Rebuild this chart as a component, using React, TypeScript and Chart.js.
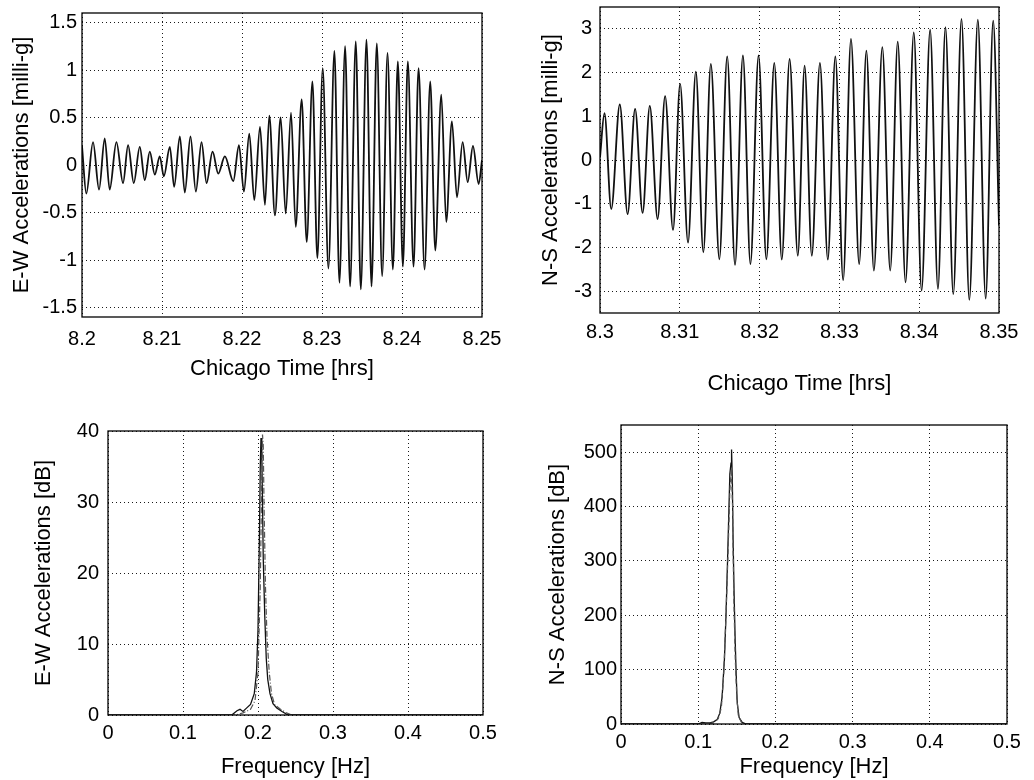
import { useEffect, useRef } from 'react';
import { Chart, registerables } from 'chart.js';

Chart.register(...registerables);

const FONT = '"Liberation Sans", Arial, Helvetica, sans-serif';

// ---------- E-W acceleration time history (extrema) ----------
const ewTime = [8.2, 8.20054, 8.20138, 8.20213, 8.20284, 8.20346, 8.2043, 8.20513, 8.20576, 8.20647, 8.20722, 8.20785, 8.20847, 8.2091, 8.20972, 8.21023, 8.21098, 8.21152, 8.21223, 8.21285, 8.21356, 8.21423, 8.21494, 8.21557, 8.21632, 8.21703, 8.21786, 8.21891, 8.21962, 8.22024, 8.22091, 8.22154, 8.22225, 8.22287, 8.22341, 8.22412, 8.22483, 8.22546, 8.22613, 8.22671, 8.22746, 8.22809, 8.2288, 8.22942, 8.23009, 8.2308, 8.23155, 8.23218, 8.23289, 8.23351, 8.23422, 8.23485, 8.23556, 8.23619, 8.23685, 8.23752, 8.23819, 8.23886, 8.23948, 8.24011, 8.24073, 8.24144, 8.24207, 8.24282, 8.24353, 8.24416, 8.24491, 8.24553, 8.24624, 8.24687, 8.24758, 8.24821, 8.24887, 8.24958, 8.25];
const ewAccel = [0.2, -0.3, 0.24, -0.26, 0.28, -0.26, 0.24, -0.19, 0.21, -0.19, 0.19, -0.16, 0.14, -0.1, 0.09, -0.12, 0.19, -0.23, 0.3, -0.29, 0.3, -0.28, 0.24, -0.19, 0.14, -0.09, 0.09, -0.17, 0.21, -0.28, 0.33, -0.37, 0.4, -0.42, 0.52, -0.53, 0.5, -0.51, 0.55, -0.65, 0.69, -0.81, 0.88, -0.98, 1.02, -1.09, 1.2, -1.24, 1.25, -1.28, 1.3, -1.31, 1.32, -1.28, 1.28, -1.17, 1.18, -1.1, 1.09, -1.07, 1.09, -1.07, 1.02, -1.1, 0.88, -0.9, 0.74, -0.6, 0.46, -0.34, 0.24, -0.18, 0.2, -0.2, 0.05];

// ---------- N-S acceleration time history ----------
const nsTime = [8.3, 8.30056, 8.30141, 8.30248, 8.30346, 8.3044, 8.30534, 8.30624, 8.30722, 8.30816, 8.30915, 8.31004, 8.31103, 8.31201, 8.31295, 8.31389, 8.31496, 8.31594, 8.31692, 8.31791, 8.31885, 8.31987, 8.32085, 8.32184, 8.32278, 8.32376, 8.32479, 8.32564, 8.32654, 8.32756, 8.32855, 8.32949, 8.33047, 8.33145, 8.33248, 8.33338, 8.33432, 8.33538, 8.33637, 8.33731, 8.33829, 8.33932, 8.3403, 8.34137, 8.34235, 8.34329, 8.34427, 8.3453, 8.34628, 8.34735, 8.34833, 8.34927, 8.35];
const nsAccel = [0.06, 1.07, -1.12, 1.27, -1.24, 1.17, -1.21, 1.24, -1.35, 1.46, -1.6, 1.74, -1.89, 2.02, -2.11, 2.2, -2.27, 2.37, -2.4, 2.39, -2.38, 2.39, -2.27, 2.22, -2.28, 2.31, -2.19, 2.16, -2.19, 2.22, -2.28, 2.37, -2.75, 2.77, -2.38, 2.5, -2.53, 2.58, -2.53, 2.71, -2.8, 2.92, -2.99, 2.98, -2.95, 3.04, -3.07, 3.23, -3.2, 3.21, -3.17, 3.19, -1.5];

// ---------- E-W spectrum ----------
const ewFreq = [0, 0.165, 0.172, 0.176, 0.18, 0.185, 0.19, 0.195, 0.198, 0.2, 0.202, 0.203, 0.204, 0.205, 0.206, 0.207, 0.209, 0.211, 0.213, 0.216, 0.22, 0.225, 0.232, 0.24, 0.5];
const ewPsd = [0, 0, 0.6, 0.8, 0.5, 1.0, 1.5, 3, 6, 12, 26, 35, 39, 37, 30, 22, 14, 8, 5, 3, 1.6, 1.0, 0.5, 0, 0];
const ewFreqDash = [0, 0.17, 0.18, 0.19, 0.196, 0.2, 0.203, 0.205, 0.206, 0.207, 0.208, 0.21, 0.212, 0.215, 0.218, 0.222, 0.23, 0.238, 0.245, 0.5];
const ewPsdDash = [0, 0, 0.3, 0.8, 2, 6, 18, 33, 39.5, 38, 30, 18, 11, 6, 3, 1.5, 0.8, 0.3, 0, 0];

// ---------- N-S spectrum ----------
const nsFreq = [0, 0.1, 0.105, 0.11, 0.115, 0.12, 0.1245, 0.128, 0.131, 0.134, 0.136, 0.138, 0.1395, 0.141, 0.1425, 0.1432, 0.1442, 0.1452, 0.1465, 0.1478, 0.149, 0.1505, 0.153, 0.157, 0.162, 0.5];
const nsPsd = [0, 0, 3, 2, 2, 4, 8, 20, 50, 120, 200, 300, 380, 460, 480, 505, 450, 340, 240, 160, 100, 40, 12, 3, 0, 0];
const nsFreqDash = [0, 0.11, 0.12, 0.126, 0.13, 0.133, 0.136, 0.139, 0.141, 0.143, 0.1445, 0.146, 0.148, 0.15, 0.152, 0.156, 0.16, 0.5];
const nsPsdDash = [0, 0, 2, 10, 30, 90, 200, 330, 430, 470, 400, 240, 120, 50, 15, 3, 0, 0];

// ---------- ticks ----------
const ewTimeTicks = [8.2, 8.21, 8.22, 8.23, 8.24, 8.25];
const ewTimeLabels = ['8.2', '8.21', '8.22', '8.23', '8.24', '8.25'];
const nsTimeTicks = [8.3, 8.31, 8.32, 8.33, 8.34, 8.35];
const nsTimeLabels = ['8.3', '8.31', '8.32', '8.33', '8.34', '8.35'];
const ewAccelTicks = [-1.5, -1, -0.5, 0, 0.5, 1, 1.5];
const ewAccelLabels = ['-1.5', '-1', '-0.5', '0', '0.5', '1', '1.5'];
const nsAccelTicks = [-3, -2, -1, 0, 1, 2, 3];
const nsAccelLabels = ['-3', '-2', '-1', '0', '1', '2', '3'];
const freqTicks = [0, 0.1, 0.2, 0.3, 0.4, 0.5];
const freqLabels = ['0', '0.1', '0.2', '0.3', '0.4', '0.5'];
const ewPsdTicks = [0, 10, 20, 30, 40];
const ewPsdLabels = ['0', '10', '20', '30', '40'];
const nsPsdTicks = [0, 100, 200, 300, 400, 500];
const nsPsdLabels = ['0', '100', '200', '300', '400', '500'];

const zip = (xs: number[], ys: number[]) => xs.map((x, i) => ({ x, y: ys[i] }));

const boxPlugin = {
  id: 'box',
  afterDraw(chart: any) {
    const { ctx, chartArea: a } = chart;
    ctx.save();
    ctx.strokeStyle = '#000';
    ctx.lineWidth = 1.3;
    ctx.setLineDash([]);
    ctx.strokeRect(a.left, a.top, a.right - a.left, a.bottom - a.top);
    ctx.restore();
  },
};

type Panel = {
  left: number; top: number; width: number; height: number;
  yW: number; xH: number; padTop: number; padRight: number;
  xMin: number; xMax: number; yMin: number; yMax: number;
  xTicks: number[]; xLabels: string[]; yTicks: number[]; yLabels: string[];
  xPad: number; yPad: number; xTitle: string; yTitle: string;
  datasets: any[];
};

const labelFor = (ticks: number[], labels: string[]) => (v: any) => {
  const idx = ticks.findIndex((t) => Math.abs(t - Number(v)) < 1e-9);
  return idx >= 0 ? labels[idx] : '';
};

const solid = (data: any[], smooth: boolean, width = 1.8) => ({
  data,
  borderColor: '#111',
  borderWidth: width,
  pointRadius: 0,
  fill: false,
  cubicInterpolationMode: smooth ? 'monotone' : 'default',
  tension: 0,
});

const dashed = (data: any[], dash: number[]) => ({
  data,
  borderColor: '#555',
  borderWidth: 1.2,
  borderDash: dash,
  pointRadius: 0,
  fill: false,
  tension: 0,
});

const panels: Panel[] = [
  {
    left: 9, top: 0, width: 500, height: 382, yW: 73, xH: 65, padTop: 13, padRight: 27,
    xMin: 8.2, xMax: 8.25, yMin: -1.6, yMax: 1.6,
    xTicks: ewTimeTicks, xLabels: ewTimeLabels, yTicks: ewAccelTicks, yLabels: ewAccelLabels,
    xPad: 10, yPad: 5, xTitle: 'Chicago Time [hrs]', yTitle: 'E-W Accelerations [milli-g]',
    datasets: [solid(zip(ewTime, ewAccel), true)],
  },
  {
    left: 538, top: -5, width: 488, height: 402, yW: 62, xH: 84, padTop: 12, padRight: 27,
    xMin: 8.3, xMax: 8.35, yMin: -3.5, yMax: 3.5,
    xTicks: nsTimeTicks, xLabels: nsTimeLabels, yTicks: nsAccelTicks, yLabels: nsAccelLabels,
    xPad: 7, yPad: 8, xTitle: 'Chicago Time [hrs]', yTitle: 'N-S Accelerations [milli-g]',
    datasets: [solid(zip(nsTime, nsAccel), true)],
  },
  {
    left: 31, top: 419, width: 479, height: 361, yW: 77, xH: 65, padTop: 12, padRight: 27,
    xMin: 0, xMax: 0.5, yMin: 0, yMax: 40,
    xTicks: freqTicks, xLabels: freqLabels, yTicks: ewPsdTicks, yLabels: ewPsdLabels,
    xPad: 6, yPad: 9, xTitle: 'Frequency [Hz]', yTitle: 'E-W Accelerations [dB]',
    datasets: [dashed(zip(ewFreqDash, ewPsdDash), [6, 2, 1, 2]), solid(zip(ewFreq, ewPsd), false, 1.3)],
  },
  {
    left: 545, top: 413, width: 489, height: 367, yW: 76, xH: 56, padTop: 12, padRight: 27,
    xMin: 0, xMax: 0.5, yMin: 0, yMax: 550,
    xTicks: freqTicks, xLabels: freqLabels, yTicks: nsPsdTicks, yLabels: nsPsdLabels,
    xPad: 6, yPad: 4, xTitle: 'Frequency [Hz]', yTitle: 'N-S Accelerations [dB]',
    datasets: [dashed(zip(nsFreqDash, nsPsdDash), [5, 3]), solid(zip(nsFreq, nsPsd), false, 1.3)],
  },
];

function PanelChart({ p }: { p: Panel }) {
  const ref = useRef<HTMLCanvasElement | null>(null);
  useEffect(() => {
    if (!ref.current) return;
    const tickFont = { family: FONT, size: 20 };
    const titleFont = { family: FONT, size: 22 };
    const grid = { color: '#000', lineWidth: 0.9, drawTicks: false };
    const border = { display: false, dash: [1, 3] };
    const chart = new Chart(ref.current, {
      type: 'line',
      data: { datasets: p.datasets },
      options: {
        responsive: false,
        maintainAspectRatio: false,
        animation: false,
        devicePixelRatio: 1,
        layout: { padding: { left: 0, top: p.padTop, right: p.padRight, bottom: 0 } },
        plugins: { legend: { display: false }, tooltip: { enabled: false } },
        scales: {
          x: {
            type: 'linear',
            min: p.xMin,
            max: p.xMax,
            afterBuildTicks: (s: any) => { s.ticks = p.xTicks.map((v) => ({ value: v })); },
            afterFit: (s: any) => { s.height = p.xH; s.paddingLeft = 0; s.paddingRight = 0; },
            ticks: { font: tickFont, color: '#000', padding: p.xPad, maxRotation: 0, autoSkip: false, callback: labelFor(p.xTicks, p.xLabels) },
            grid,
            border,
            title: { display: true, text: p.xTitle, font: titleFont, color: '#000', padding: 0 },
          },
          y: {
            type: 'linear',
            min: p.yMin,
            max: p.yMax,
            afterBuildTicks: (s: any) => { s.ticks = p.yTicks.map((v) => ({ value: v })); },
            afterFit: (s: any) => { s.width = p.yW; s.paddingTop = 0; s.paddingBottom = 0; },
            ticks: { font: tickFont, color: '#000', padding: p.yPad, autoSkip: false, callback: labelFor(p.yTicks, p.yLabels) },
            grid,
            border,
            title: { display: true, text: p.yTitle, font: titleFont, color: '#000', padding: 0 },
          },
        },
      } as any,
      plugins: [boxPlugin],
    });
    return () => chart.destroy();
  }, [p]);
  return (
    <canvas
      ref={ref}
      width={p.width}
      height={p.height}
      style={{ position: 'absolute', left: p.left, top: p.top, width: p.width, height: p.height }}
    />
  );
}

export default function App() {
  return (
    <div style={{ position: 'absolute', left: 0, top: 0, width: 1034, height: 780, background: '#fff', overflow: 'hidden' }}>
      {panels.map((p, i) => (
        <PanelChart key={i} p={p} />
      ))}
    </div>
  );
}
